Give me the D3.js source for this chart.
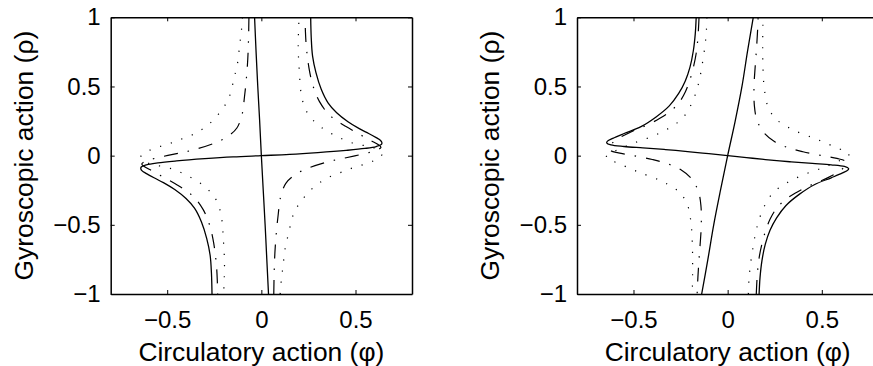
<!DOCTYPE html>
<html>
<head>
<meta charset="utf-8">
<script src="https://cdn.jsdelivr.net/npm/d3@7"></script>
<style>
body { margin: 0; background: #fff; }
svg text { font-family: "Liberation Sans", Arial, Helvetica, sans-serif; font-size: 24px; fill: #000; }
svg text.label { font-size: 26.4px; }
</style>
</head>
<body>
<svg id="chart" width="873" height="366"></svg>
<script>
// axis ticks and labels
var xTicks = [-0.5, 0, 0.5];
var yTicks = [-1, -0.5, 0, 0.5, 1];
var xLabel = 'Circulatory action (\u03c6)';
var yLabel = 'Gyroscopic action (\u03c1)';

// left panel, [circulatory, gyroscopic] pairs
var leftSolidS = [[0.262,1],[0.265,0.85],[0.272,0.72],[0.29,0.6],[0.318,0.48],[0.355,0.38],[0.4,0.31],[0.46,0.245],
    [0.52,0.195],[0.57,0.16],[0.61,0.13],[0.633,0.11],[0.64,0.095],[0.638,0.082],[0.61,0.066],[0.55,0.052],[0.45,0.038],
    [0.3,0.022],[0.15,0.009],[0,0],[-0.15,-0.009],[-0.3,-0.022],[-0.45,-0.038],[-0.55,-0.052],[-0.61,-0.066],[-0.638,-0.082],
    [-0.64,-0.095],[-0.633,-0.11],[-0.61,-0.13],[-0.57,-0.16],[-0.52,-0.195],[-0.46,-0.245],[-0.4,-0.31],[-0.355,-0.38],
    [-0.318,-0.48],[-0.29,-0.6],[-0.272,-0.72],[-0.265,-0.85],[-0.262,-1]];
var leftSolidLine = [[-0.036,1],[-0.028,0.75],[-0.019,0.5],[-0.009,0.25],[0,0],[0.01,-0.25],[0.02,-0.5],[0.029,-0.75],[0.038,-1]];
var leftDashDotA = [[-0.066,1],[-0.068,0.85],[-0.072,0.7],[-0.08,0.55],[-0.09,0.42],[-0.102,0.3],[-0.13,0.2],[-0.18,0.137],
    [-0.25,0.09],[-0.36,0.042],[-0.45,0.015],[-0.56,-0.018],[-0.615,-0.04],[-0.635,-0.06],[-0.62,-0.08],[-0.58,-0.11],
    [-0.51,-0.163],[-0.447,-0.212],[-0.39,-0.262],[-0.35,-0.31],[-0.308,-0.392],[-0.284,-0.465],[-0.267,-0.54],[-0.253,-0.633],
    [-0.244,-0.72],[-0.238,-0.8],[-0.234,-0.9],[-0.232,-1]];
var leftDashDotB = [[0.066,-1],[0.068,-0.85],[0.072,-0.7],[0.08,-0.55],[0.09,-0.42],[0.102,-0.3],[0.13,-0.2],[0.18,-0.137],
    [0.25,-0.09],[0.36,-0.042],[0.45,-0.015],[0.56,0.018],[0.615,0.04],[0.635,0.06],[0.62,0.08],[0.58,0.11],
    [0.51,0.163],[0.447,0.212],[0.39,0.262],[0.35,0.31],[0.308,0.392],[0.284,0.465],[0.267,0.54],[0.253,0.633],
    [0.244,0.72],[0.238,0.8],[0.234,0.9],[0.232,1]];
var leftDotA = [[-0.1,1],[-0.106,0.9],[-0.113,0.82],[-0.12,0.74],[-0.128,0.655],[-0.142,0.576],[-0.156,0.494],[-0.173,0.415],
    [-0.2,0.35],[-0.239,0.282],[-0.283,0.222],[-0.327,0.18],[-0.38,0.142],[-0.439,0.113],[-0.492,0.085],[-0.55,0.061],
    [-0.598,0.036],[-0.63,0.012],[-0.64,-0.01],[-0.62,-0.04],[-0.579,-0.065],[-0.516,-0.08],[-0.463,-0.101],[-0.41,-0.133],
    [-0.363,-0.166],[-0.313,-0.21],[-0.269,-0.265],[-0.234,-0.335],[-0.216,-0.415],[-0.207,-0.494],[-0.203,-0.583],
    [-0.199,-0.667],[-0.196,-0.751],[-0.196,-0.836],[-0.198,-0.92],[-0.2,-1]];
var leftDotB = [[0.1,-1],[0.106,-0.9],[0.113,-0.82],[0.12,-0.74],[0.128,-0.655],[0.142,-0.576],[0.156,-0.494],[0.173,-0.415],
    [0.2,-0.35],[0.239,-0.282],[0.283,-0.222],[0.327,-0.18],[0.38,-0.142],[0.439,-0.113],[0.492,-0.085],[0.55,-0.061],
    [0.598,-0.036],[0.63,-0.012],[0.64,0.01],[0.62,0.04],[0.579,0.065],[0.516,0.08],[0.463,0.101],[0.41,0.133],
    [0.363,0.166],[0.313,0.21],[0.269,0.265],[0.234,0.335],[0.216,0.415],[0.207,0.494],[0.203,0.583],
    [0.199,0.667],[0.196,0.751],[0.196,0.836],[0.198,0.92],[0.2,1]];

// right panel
var rightSolidS = [[-0.167,1],[-0.172,0.88],[-0.182,0.76],[-0.2,0.64],[-0.225,0.54],[-0.26,0.45],[-0.31,0.36],[-0.38,0.28],
    [-0.46,0.21],[-0.55,0.16],[-0.61,0.125],[-0.638,0.105],[-0.642,0.092],[-0.62,0.078],[-0.55,0.066],[-0.45,0.056],
    [-0.33,0.044],[-0.2,0.028],[-0.1,0.014],[0,0],[0.1,-0.014],[0.2,-0.028],[0.33,-0.044],[0.45,-0.056],[0.55,-0.066],
    [0.62,-0.078],[0.642,-0.092],[0.638,-0.105],[0.61,-0.125],[0.55,-0.16],[0.46,-0.21],[0.38,-0.28],[0.31,-0.36],
    [0.26,-0.45],[0.225,-0.54],[0.2,-0.64],[0.182,-0.76],[0.172,-0.88],[0.167,-1]];
var rightSolidLine = [[0.136,1],[0.105,0.75],[0.076,0.5],[0.04,0.25],[0,0],[-0.038,-0.25],[-0.074,-0.5],[-0.105,-0.75],[-0.138,-1]];
var rightDashDotA = [[-0.152,1],[-0.158,0.85],[-0.167,0.74],[-0.18,0.65],[-0.2,0.55],[-0.225,0.46],[-0.26,0.38],[-0.305,0.32],
    [-0.36,0.27],[-0.43,0.22],[-0.5,0.18],[-0.56,0.14],[-0.605,0.1],[-0.63,0.065],[-0.625,0.04],[-0.58,0.02],[-0.5,0],
    [-0.4,-0.028],[-0.32,-0.058],[-0.25,-0.1],[-0.19,-0.17],[-0.155,-0.26],[-0.142,-0.36],[-0.14,-0.5],[-0.145,-0.62],
    [-0.152,-0.75],[-0.158,-0.88],[-0.162,-1]];
var rightDashDotB = [[0.152,-1],[0.158,-0.85],[0.167,-0.74],[0.18,-0.65],[0.2,-0.55],[0.225,-0.46],[0.26,-0.38],[0.305,-0.32],
    [0.36,-0.27],[0.43,-0.22],[0.5,-0.18],[0.56,-0.14],[0.605,-0.1],[0.63,-0.065],[0.625,-0.04],[0.58,-0.02],[0.5,0],
    [0.4,0.028],[0.32,0.058],[0.25,0.1],[0.19,0.17],[0.155,0.26],[0.142,0.36],[0.14,0.5],[0.145,0.62],
    [0.152,0.75],[0.158,0.88],[0.162,1]];
var rightDotA = [[-0.11,1],[-0.113,0.9],[-0.12,0.8],[-0.135,0.66],[-0.155,0.52],[-0.19,0.38],[-0.24,0.27],[-0.31,0.2],
    [-0.4,0.14],[-0.5,0.09],[-0.58,0.045],[-0.63,0.012],[-0.645,-0.01],[-0.63,-0.03],[-0.595,-0.048],[-0.48,-0.115],
    [-0.35,-0.185],[-0.26,-0.26],[-0.215,-0.35],[-0.195,-0.48],[-0.188,-0.62],[-0.186,-0.8],[-0.188,-1]];
var rightDotB = [[0.11,-1],[0.113,-0.9],[0.12,-0.8],[0.135,-0.66],[0.155,-0.52],[0.19,-0.38],[0.24,-0.27],[0.31,-0.2],
    [0.4,-0.14],[0.5,-0.09],[0.58,-0.045],[0.63,-0.012],[0.645,0.01],[0.63,0.03],[0.595,0.048],[0.48,0.115],
    [0.35,0.185],[0.26,0.26],[0.215,0.35],[0.195,0.48],[0.188,0.62],[0.186,0.8],[0.188,1]];

var dashes = { solid: null, dashdot: '14,10,1.5,10', dotted: '1.2,10' };
var svg = d3.select('#chart');
var plotW = 301.3, plotTop = 17.3, plotBottom = 294;
var fmt = d3.format('');

function drawPanel(id, left, curves) {
    var x = d3.scaleLinear().domain([-0.8, 0.8]).range([left, left + plotW]);
    var y = d3.scaleLinear().domain([-1, 1]).range([plotBottom, plotTop]);
    var g = svg.append('g').attr('id', id);

    g.append('clipPath').attr('id', id + 'Clip').append('rect')
        .attr('x', left).attr('y', plotTop)
        .attr('width', plotW).attr('height', plotBottom - plotTop);

    var line = d3.line()
        .x(function (d) { return x(d[0]); })
        .y(function (d) { return y(d[1]); })
        .curve(d3.curveCatmullRom.alpha(0.5));

    var plot = g.append('g').attr('clip-path', 'url(#' + id + 'Clip)');
    curves.forEach(function (c) {
        plot.append('path')
            .attr('d', line(c.data))
            .attr('fill', 'none')
            .attr('stroke', '#000')
            .attr('stroke-width', c.style === 'solid' ? 1.3 : 1.2)
            .attr('stroke-dasharray', dashes[c.style]);
    });

    // box with inward ticks on all four sides
    var bottom = g.append('g').attr('transform', 'translate(0,' + plotBottom + ')')
        .call(d3.axisBottom(x).tickValues(xTicks).tickFormat(fmt).tickSizeInner(-4).tickSizeOuter(0).tickPadding(17));
    var top = g.append('g').attr('transform', 'translate(0,' + plotTop + ')')
        .call(d3.axisTop(x).tickValues(xTicks).tickFormat('').tickSizeInner(-4).tickSizeOuter(0));
    var leftAx = g.append('g').attr('transform', 'translate(' + left + ',0)')
        .call(d3.axisLeft(y).tickValues(yTicks).tickFormat(fmt).tickSizeInner(-4).tickSizeOuter(0).tickPadding(10));
    var right = g.append('g').attr('transform', 'translate(' + (left + plotW) + ',0)')
        .call(d3.axisRight(y).tickValues(yTicks).tickFormat('').tickSizeInner(-4).tickSizeOuter(0));
    [bottom, top, leftAx, right].forEach(function (a) {
        a.select('.domain').attr('stroke-width', 1.5).attr('stroke', '#000');
        a.selectAll('.tick line').attr('stroke', '#000');
    });

    g.append('text')
        .attr('class', 'label')
        .attr('x', left + plotW / 2)
        .attr('y', 361)
        .attr('text-anchor', 'middle')
        .text(xLabel);
    g.append('text')
        .attr('class', 'label')
        .attr('transform', 'translate(' + (left - 78) + ',' + ((plotTop + plotBottom) / 2) + ') rotate(-90)')
        .attr('text-anchor', 'middle')
        .text(yLabel);
}

drawPanel('leftPanel', 110.7, [
    { data: leftDotA, style: 'dotted' },
    { data: leftDotB, style: 'dotted' },
    { data: leftDashDotA, style: 'dashdot' },
    { data: leftDashDotB, style: 'dashdot' },
    { data: leftSolidS, style: 'solid' },
    { data: leftSolidLine, style: 'solid' }
]);
drawPanel('rightPanel', 577, [
    { data: rightDotA, style: 'dotted' },
    { data: rightDotB, style: 'dotted' },
    { data: rightDashDotA, style: 'dashdot' },
    { data: rightDashDotB, style: 'dashdot' },
    { data: rightSolidS, style: 'solid' },
    { data: rightSolidLine, style: 'solid' }
]);
</script>
</body>
</html>
